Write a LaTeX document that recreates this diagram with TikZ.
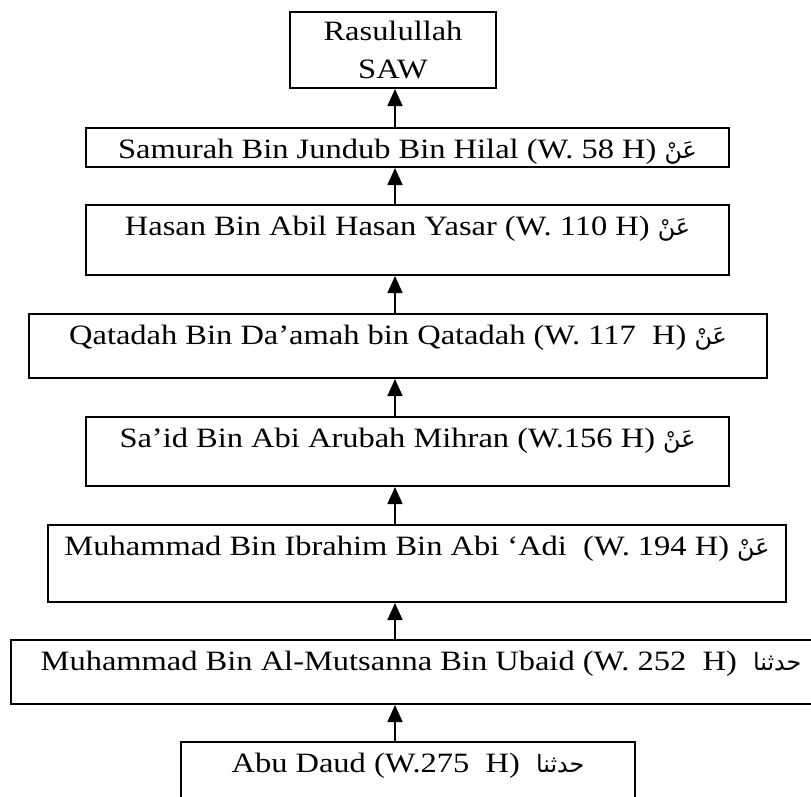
\documentclass[tikz,border=0pt]{standalone}
\usepackage{fontspec}
\setmainfont{Liberation Serif}[FakeStretch=1.16]
\newfontfamily\arabicfont[Script=Arabic,Scale=0.85]{DejaVu Sans}
\TeXXeTstate=1
\usetikzlibrary{arrows.meta}
\newcommand{\an}{{\arabicfont\beginR عَنْ\endR}}
\newcommand{\hadd}{{\arabicfont\beginR حدثنا\endR}}

\begin{document}
\begin{tikzpicture}[x=1pt,y=-1pt,
	box/.style={draw,line width=2pt,anchor=north,inner xsep=2pt,inner ysep=4pt,text height=26pt,font=\fontsize{28}{38}\selectfont},
	arr/.style={-{Triangle[length=17pt,width=15pt]},line width=1.6pt}]
	\clip (0,0) rectangle (811,796);
	\coordinate (col) at (395,0);
	\node[draw,line width=2pt,align=center,minimum width=206pt,minimum height=76pt,font=\fontsize{28}{38}\selectfont] (rasul) at (393,50) {Rasulullah\\SAW};
	\node[box,minimum width=643pt,text depth=5pt] (samurah) at (407.5,127) {Samurah Bin Jundub Bin Hilal (W. 58 H) \an};
	\node[box,minimum width=643pt,text depth=36pt] (hasan) at (407.5,204) {Hasan Bin Abil Hasan Yasar (W. 110 H) \an};
	\node[box,minimum width=738pt,text depth=30pt] (qatadah) at (398,313) {Qatadah Bin Da’amah bin Qatadah (W. 117~ H) \an};
	\node[box,minimum width=643pt,text depth=35pt] (said) at (407.5,416) {Sa’id Bin Abi Arubah Mihran (W.156 H) \an};
	\node[box,minimum width=738pt,text depth=43pt] (ibrahim) at (417,524) {Muhammad Bin Ibrahim Bin Abi ‘Adi~ (W. 194 H) \an};
	\node[box,minimum width=820pt,text depth=30pt] (mutsanna) at (421,639) {Muhammad Bin Al-Mutsanna Bin Ubaid (W. 252~ H)~ \hadd};
	\node[box,minimum width=454pt,text depth=36pt] (abudaud) at (408,741) {Abu Daud (W.275~ H)~ \hadd};
	\draw[arr] (abudaud.north -| col) -- (mutsanna.south -| col);
	\draw[arr] (mutsanna.north -| col) -- (ibrahim.south -| col);
	\draw[arr] (ibrahim.north -| col) -- (said.south -| col);
	\draw[arr] (said.north -| col) -- (qatadah.south -| col);
	\draw[arr] (qatadah.north -| col) -- (hasan.south -| col);
	\draw[arr] (hasan.north -| col) -- (samurah.south -| col);
	\draw[arr] (samurah.north -| col) -- (rasul.south -| col);
\end{tikzpicture}
\end{document}
